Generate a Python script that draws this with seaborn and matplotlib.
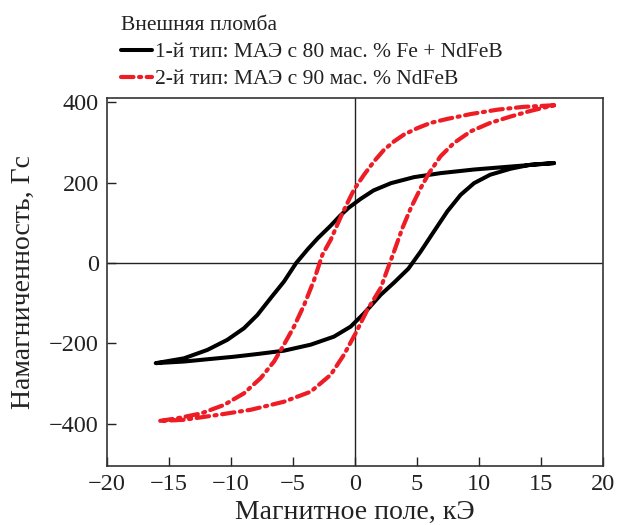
import matplotlib
matplotlib.use("Agg")
import matplotlib.pyplot as plt
import seaborn as sns

# 1-й тип: верхняя ветвь (поле убывает), затем нижняя (поле растёт)
h_type1 = [16.05, 12.8, 9.6, 6.9, 4.76, 2.9, 1.5, 0.46, -0.5, -1.2, -2.0, -3.0, -3.8, -4.75,
           -5.73, -6.8, -7.87, -8.95, -10.3, -11.9, -13.8, -16.07,
           -13.8, -11.8, -9.76, -7.8, -5.73, -3.57, -1.7, -0.35, 0.73, 2.07, 3.2, 4.3,
           5.3, 6.37, 7.45, 8.52, 9.6, 10.9, 12.56, 14.17, 16.05]
m_type1 = [249, 241, 233, 224, 214, 199, 181, 160, 138, 118, 92, 62, 35, 0,
           -46, -87, -129, -162, -191, -216, -237, -249,
           -245, -239, -233, -226, -218, -203, -183, -158, -125, -79, -47, -14,
           29, 79, 129, 170, 199, 220, 235, 245, 249]

# 2-й тип
h_type2 = [16.05, 13.6, 11.5, 9.33, 7.45, 6.1, 5.03, 3.95, 3.15, 2.34, 1.53, 0.73, -0.08,
           -1.02, -1.96, -2.63, -3.3, -4.1, -4.92, -5.73, -6.53, -7.6, -8.95, -10.56,
           -12.4, -14.3, -15.8,
           -13.8, -11.1, -8.4, -5.73, -3.57, -1.96, -0.89, 0.06, 1.0, 2.07, 2.6, 3.15,
           3.82, 4.5, 5.3, 5.97, 6.9, 7.98, 9.33, 10.9, 12.56, 14.17, 16.05]
m_type2 = [393, 389, 382, 371, 359, 349, 336, 320, 303, 282, 253, 220, 183,
           124, 58, 21, -42, -104, -158, -203, -245, -286, -324, -353,
           -374, -386, -393,
           -390, -378, -365, -345, -320, -278, -228, -174, -116, -62, -17, 29,
           87, 137, 187, 224, 266, 299, 328, 349, 365, 379, 393]

x_ticks = [-20, -15, -10, -5, 0, 5, 10, 15, 20]
y_ticks = [-400, -200, 0, 200, 400]

sns.set_theme(style="ticks")
plt.rcParams["font.family"] = ["Liberation Serif", "DejaVu Serif"]
plt.rcParams["lines.scale_dashes"] = False

fig = plt.figure(figsize=(6.18, 5.25), dpi=100)
ax = fig.add_axes([107 / 618, 1 - 466 / 525, 496 / 618, 368 / 525])

ax.axhline(0, color="#222222", lw=1.0, zorder=1)
ax.axvline(0, color="#222222", lw=1.0, zorder=1)

sns.lineplot(x=h_type1, y=m_type1, sort=False, estimator=None, ax=ax,
             color="black", lw=2.9, label="1-й тип: МАЭ с 80 мас. % Fe + NdFeB")
sns.lineplot(x=h_type2, y=m_type2, sort=False, estimator=None, ax=ax,
             color="#ee1c25", lw=3.0, label="2-й тип: МАЭ с 90 мас. % NdFeB")
for ln in ax.lines:
    ln.set_solid_joinstyle("round")
    ln.set_dash_joinstyle("round")
ax.lines[-1].set_dashes([9, 4, 1.5, 4])
ax.lines[-1].set_dash_capstyle("round")

ax.set_xlim(-20, 20)
ax.set_ylim(-505, 411)
ax.set_xticks(x_ticks)
ax.set_yticks(y_ticks)
ax.set_xticklabels(["\u2212" + str(-t) if t < 0 else str(t) for t in x_ticks])
ax.set_yticklabels(["\u2212" + str(-t) if t < 0 else str(t) for t in y_ticks])
ax.tick_params(direction="in", length=6.5, width=1, labelsize=17.5, colors="#222222",
               labelcolor="#222222", pad=6)
for s in ax.spines.values():
    s.set_color("#333333")
    s.set_linewidth(1.2)

ax.set_xlabel("Магнитное поле, кЭ", fontsize=20, color="#222222", labelpad=3)
ax.set_ylabel("Намагниченность, Гс", fontsize=20, color="#222222", labelpad=9)

leg = ax.legend(loc="upper left", bbox_to_anchor=(105 / 618, 1.0), bbox_transform=fig.transFigure,
                title="Внешняя пломба", fontsize=15.5, title_fontsize=15.5, frameon=False,
                handlelength=1.45, handletextpad=0.1, labelspacing=0.32, borderpad=0.25,
                alignment="left")
for t in leg.get_texts():
    t.set_color("#222222")
leg.get_title().set_color("#222222")

fig.savefig("out.png", dpi=100)
